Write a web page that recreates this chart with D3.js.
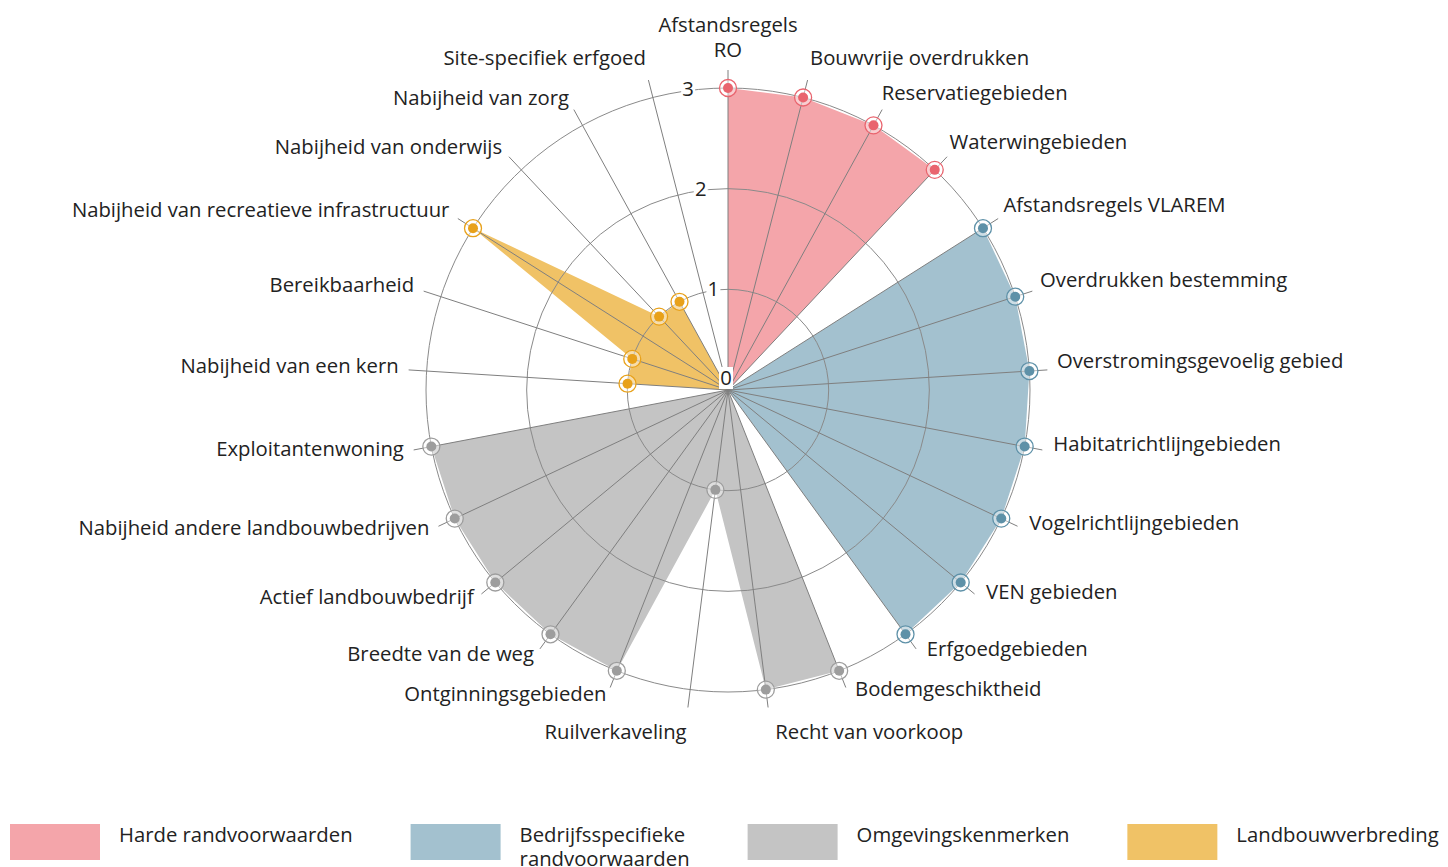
<!DOCTYPE html>
<html>
<head>
<meta charset="utf-8">
<script src="https://cdn.jsdelivr.net/npm/d3@7/dist/d3.min.js"></script>
<style>
  body { margin: 0; background: #fff; }
  svg { display: block; font-family: "Open Sans", Lato, sans-serif; }
</style>
</head>
<body>
<script>
// axes of the radar, clockwise starting at the top
var categories = [
    "Afstandsregels RO", "Bouwvrije overdrukken", "Reservatiegebieden", "Waterwingebieden",
    "Afstandsregels VLAREM", "Overdrukken bestemming", "Overstromingsgevoelig gebied",
    "Habitatrichtlijngebieden", "Vogelrichtlijngebieden", "VEN gebieden", "Erfgoedgebieden",
    "Bodemgeschiktheid", "Recht van voorkoop", "Ruilverkaveling", "Ontginningsgebieden",
    "Breedte van de weg", "Actief landbouwbedrijf", "Nabijheid andere landbouwbedrijven",
    "Exploitantenwoning", "Nabijheid van een kern", "Bereikbaarheid",
    "Nabijheid van recreatieve infrastructuur", "Nabijheid van onderwijs",
    "Nabijheid van zorg", "Site-specifiek erfgoed"
];

var seriesNames = ["Harde randvoorwaarden", "Bedrijfsspecifieke randvoorwaarden", "Omgevingskenmerken", "Landbouwverbreding"];

var hardeValues    = [3, 3, 3, 3, 0, 0, 0, 0, 0, 0, 0, 0, 0, 0, 0, 0, 0, 0, 0, 0, 0, 0, 0, 0, 0];
var bedrijfValues  = [0, 0, 0, 0, 3, 3, 3, 3, 3, 3, 3, 0, 0, 0, 0, 0, 0, 0, 0, 0, 0, 0, 0, 0, 0];
var omgevingValues = [0, 0, 0, 0, 0, 0, 0, 0, 0, 0, 0, 3, 3, 1, 3, 3, 3, 3, 3, 0, 0, 0, 0, 0, 0];
var landbouwValues = [0, 0, 0, 0, 0, 0, 0, 0, 0, 0, 0, 0, 0, 0, 0, 0, 0, 0, 0, 1, 1, 3, 1, 1, 0];

var radialTicks = [0, 1, 2, 3];

var fillColors   = ["#f4a5aa", "#a3c1cf", "#c4c4c4", "#f0c266"];
var markerColors = ["#e9646e", "#5e91a8", "#9d9d9d", "#e8a11a"];

var width = 1448, height = 867;
var cx = 728, cy = 390;
var axisLength = 320, labelRadius = 330;
var fontSize = "20.3px";

var svg = d3.select("body").append("svg")
    .attr("width", width)
    .attr("height", height);

var r = d3.scaleLinear().domain([0, 3]).range([0, 302]);
var angle = d3.scaleLinear().domain([0, categories.length]).range([0, 2 * Math.PI]);

var px = function(i, v) { return cx + r(v) * Math.sin(angle(i)); };
var py = function(i, v) { return cy - r(v) * Math.cos(angle(i)); };

var series = [hardeValues, bedrijfValues, omgevingValues, landbouwValues];

var chart = svg.append("g").attr("transform", "translate(" + cx + "," + cy + ")");

// filled areas
var area = d3.lineRadial()
    .angle(function(d, i) { return angle(i); })
    .radius(function(d) { return r(d); })
    .curve(d3.curveLinearClosed);

chart.selectAll("path.area")
    .data(series)
    .enter().append("path")
    .attr("class", "area")
    .attr("d", area)
    .style("fill", function(d, i) { return fillColors[i]; })
    .style("stroke", "none");

// circular grid
chart.selectAll("circle.grid")
    .data(radialTicks.filter(function(t) { return t > 0; }))
    .enter().append("circle")
    .attr("class", "grid")
    .attr("r", function(d) { return r(d); })
    .style("fill", "none")
    .style("stroke", "#8a8a8a")
    .style("stroke-width", 1);

// spokes
chart.selectAll("line.spoke")
    .data(categories)
    .enter().append("line")
    .attr("class", "spoke")
    .attr("x1", 0).attr("y1", 0)
    .attr("x2", function(d, i) { return axisLength * Math.sin(angle(i)); })
    .attr("y2", function(d, i) { return -axisLength * Math.cos(angle(i)); })
    .style("stroke", "#7f7f7f")
    .style("stroke-width", 1);

// markers
series.forEach(function(vals, s) {
    var pts = vals.map(function(v, i) { return {i: i, v: v}; })
        .filter(function(d) { return d.v > 0; });
    var g = svg.append("g");
    g.selectAll("circle.halo")
        .data(pts)
        .enter().append("circle")
        .attr("cx", function(d) { return px(d.i, d.v); })
        .attr("cy", function(d) { return py(d.i, d.v); })
        .attr("r", 8.5)
        .style("fill", "rgba(255,255,255,0.45)")
        .style("stroke", markerColors[s])
        .style("stroke-width", 1.3);
    g.selectAll("circle.dot")
        .data(pts)
        .enter().append("circle")
        .attr("cx", function(d) { return px(d.i, d.v); })
        .attr("cy", function(d) { return py(d.i, d.v); })
        .attr("r", 5)
        .style("fill", markerColors[s]);
});

// radial tick labels with a white background
var tickAngle = -angle(0.5);
var ticks = svg.append("g").selectAll("g.tick")
    .data(radialTicks)
    .enter().append("g")
    .attr("transform", function(d) {
        var x = cx + r(d) * Math.sin(tickAngle) - 2;
        var y = cy - r(d) * Math.cos(tickAngle) - 1 - (d === 0 ? 11 : 0);
        return "translate(" + x + "," + y + ")";
    });
ticks.append("rect")
    .attr("x", -7).attr("y", -11)
    .attr("width", 14).attr("height", 22)
    .style("fill", "#fff");
ticks.append("text")
    .attr("text-anchor", "middle")
    .attr("dy", "0.35em")
    .style("font-size", fontSize)
    .style("fill", "#222")
    .text(function(d) { return d; });

// category labels
svg.append("g").selectAll("text.cat")
    .data(categories)
    .enter().append("text")
    .attr("class", "cat")
    .style("font-size", fontSize)
    .style("fill", "#222")
    .each(function(d, i) {
        var a = angle(i);
        var deg = a * 180 / Math.PI;
        var x = cx + labelRadius * Math.sin(a);
        var y = cy - labelRadius * Math.cos(a);
        var anchor = deg < 1 ? "middle" : (deg < 180 ? "start" : "end");
        var dy;
        if (deg < 20 || deg > 340) dy = -12;
        else if (deg > 160 && deg < 200) dy = 14;
        else dy = anchor === "start" ? -8 : -3;
        if (anchor === "start" && deg > 20) x -= 6 * Math.cos(a);
        var t = d3.select(this).attr("text-anchor", anchor);
        if (anchor === "middle") {
            // wrap the centred top label
            var words = d.split(" ");
            var lines = [words.slice(0, -1).join(" "), words[words.length - 1]];
            lines.forEach(function(line, k) {
                t.append("tspan")
                    .attr("x", x)
                    .attr("y", y - 10 - (lines.length - 1 - k) * 25)
                    .attr("dy", "0.35em")
                    .text(line);
            });
        } else {
            t.attr("x", x).attr("y", y + dy).attr("dy", "0.35em").text(d);
        }
    });

// legend
var legend = svg.append("g");
var lx = 10;
seriesNames.forEach(function(name, s) {
    var item = legend.append("g").attr("transform", "translate(" + lx + ",824)");
    item.append("rect")
        .attr("width", 90).attr("height", 36)
        .style("fill", fillColors[s]);
    var txt = item.append("text")
        .attr("x", 109)
        .style("font-size", fontSize)
        .style("fill", "#222");
    // wrap long names over two lines
    var probe = item.append("text").style("font-size", fontSize).text(name);
    var lines = probe.node().getComputedTextLength() > 280 ? name.split(" ") : [name];
    probe.remove();
    lines.forEach(function(line, k) {
        txt.append("tspan").attr("x", 109).attr("y", 11 + k * 24).attr("dy", "0.35em").text(line);
    });
    var w = 0;
    txt.selectAll("tspan").each(function() { w = Math.max(w, this.getComputedTextLength()); });
    lx += 109 + w + 58;
});
</script>
</body>
</html>
